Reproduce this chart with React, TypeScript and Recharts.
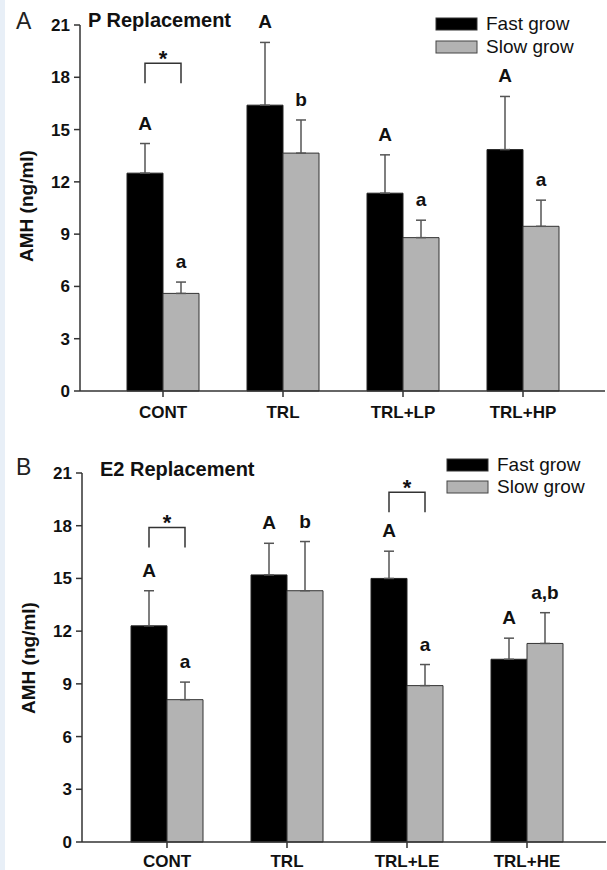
import { Bar, BarChart, ErrorBar, LabelList, XAxis, YAxis } from "recharts";

const FONT = "'Liberation Sans', Arial, sans-serif";

const yTicks = [0, 3, 6, 9, 12, 15, 18, 21];

// panel A: P replacement
const groupsA = ["CONT", "TRL", "TRL+LP", "TRL+HP"];
const fastA = [12.5, 16.4, 11.35, 13.85];
const fastErrA = [1.7, 3.6, 2.2, 3.05];
const slowA = [5.6, 13.65, 8.8, 9.45];
const slowErrA = [0.65, 1.9, 1.0, 1.5];
const fastLettersA = ["A", "A", "A", "A"];
const slowLettersA = ["a", "b", "a", "a"];
const starA = [18.8, null, null, null];

// panel B: E2 replacement
const groupsB = ["CONT", "TRL", "TRL+LE", "TRL+HE"];
const fastB = [12.3, 15.2, 15.0, 10.4];
const fastErrB = [2.0, 1.8, 1.55, 1.2];
const slowB = [8.1, 14.3, 8.9, 11.3];
const slowErrB = [1.0, 2.8, 1.2, 1.75];
const fastLettersB = ["A", "A", "A", "A"];
const slowLettersB = ["a", "b", "a", "a,b"];
const starB = [17.9, null, 19.9, null];

const makeLabel =
  (values: number[], errs: number[], letters: string[], star?: (number | null)[]) =>
  (p: any) => {
    const x = Number(p.x);
    const y = Number(p.y);
    const width = Number(p.width);
    const height = Number(p.height);
    const i = p.index;
    const ppu = height / values[i];
    const errTop = y - errs[i] * ppu;
    const cx = x + width / 2;
    const base = y + height;
    const s = star ? star[i] : null;
    const by = s != null ? base - s * ppu : 0;
    return (
      <g>
        <text
          x={cx}
          y={errTop - 14}
          textAnchor="middle"
          fontFamily={FONT}
          fontWeight="bold"
          fontSize={19}
          fill="#111"
        >
          {letters[i]}
        </text>
        {s != null && (
          <g>
            <path
              d={`M${cx},${by + 20} V${by} H${cx + width} V${by + 20}`}
              fill="none"
              stroke="#333"
              strokeWidth={1.5}
            />
            <text
              x={cx + width / 2}
              y={by + 3}
              textAnchor="middle"
              fontFamily={FONT}
              fontWeight="bold"
              fontSize={22}
              fill="#111"
            >
              *
            </text>
          </g>
        )}
      </g>
    );
  };

type PanelProps = {
  top: number;
  height: number;
  margin: { top: number; right: number; bottom: number; left: number };
  yWidth: number;
  xHeight: number;
  xTickMargin: number;
  padding: { left: number; right: number };
  groups: string[];
  fast: number[];
  fastErr: number[];
  slow: number[];
  slowErr: number[];
  fastLetters: string[];
  slowLetters: string[];
  star: (number | null)[];
};

function Panel(props: PanelProps) {
  const data = props.groups.map((g, i) => ({
    group: g,
    fast: props.fast[i],
    fastErr: [0, props.fastErr[i]],
    slow: props.slow[i],
    slowErr: [0, props.slowErr[i]],
  }));
  const tickStyle = { fontFamily: FONT, fontWeight: "bold", fill: "#111" };
  return (
    <div style={{ position: "absolute", left: 0, top: props.top }}>
      <BarChart
        width={607}
        height={props.height}
        data={data}
        margin={props.margin}
        barCategoryGap="20%"
        barGap={0}
      >
        <XAxis
          dataKey="group"
          height={props.xHeight}
          padding={props.padding}
          tickSize={6}
          tickMargin={props.xTickMargin}
          axisLine={{ stroke: "#333", strokeWidth: 1.5 }}
          tickLine={{ stroke: "#333", strokeWidth: 1.5 }}
          tick={{ ...tickStyle, fontSize: 17 }}
          interval={0}
        />
        <YAxis
          width={props.yWidth}
          domain={[0, 21]}
          ticks={yTicks}
          tickSize={6}
          tickMargin={4}
          axisLine={{ stroke: "#333", strokeWidth: 1.5 }}
          tickLine={{ stroke: "#333", strokeWidth: 1.5 }}
          tick={{ ...tickStyle, fontSize: 17 }}
          interval={0}
        />
        <Bar dataKey="fast" fill="#000" stroke="#222" strokeWidth={1} isAnimationActive={false}>
          <ErrorBar dataKey="fastErr" width={5} stroke="#555" strokeWidth={1.5} />
          <LabelList
            dataKey="fast"
            content={makeLabel(props.fast, props.fastErr, props.fastLetters, props.star)}
          />
        </Bar>
        <Bar dataKey="slow" fill="#b3b3b3" stroke="#333" strokeWidth={1} isAnimationActive={false}>
          <ErrorBar dataKey="slowErr" width={5} stroke="#555" strokeWidth={1.5} />
          <LabelList
            dataKey="slow"
            content={makeLabel(props.slow, props.slowErr, props.slowLetters)}
          />
        </Bar>
      </BarChart>
    </div>
  );
}

function Legend2({ x, y, textX, gap }: { x: number; y: number; textX: number; gap: number }) {
  return (
    <g fontFamily={FONT} fontSize={19} fill="#111">
      <rect x={x} y={y} width={41} height={12} fill="#000" stroke="#333" />
      <text x={textX} y={y + 12}>Fast grow</text>
      <rect x={x} y={y + gap} width={41} height={12} fill="#b3b3b3" stroke="#444" />
      <text x={textX} y={y + gap + 12}>Slow grow</text>
    </g>
  );
}

export default function App() {
  return (
    <div
      style={{
        position: "absolute",
        left: 0,
        top: 0,
        width: 607,
        height: 870,
        background: "#fff",
        overflow: "hidden",
      }}
    >
      <Panel
        top={0}
        height={430}
        margin={{ top: 25, right: 2, bottom: 9, left: 0 }}
        yWidth={80}
        xHeight={30}
        xTickMargin={9}
        padding={{ left: 23, right: 22 }}
        groups={groupsA}
        fast={fastA}
        fastErr={fastErrA}
        slow={slowA}
        slowErr={slowErrA}
        fastLetters={fastLettersA}
        slowLetters={slowLettersA}
        star={starA}
      />
      <Panel
        top={430}
        height={440}
        margin={{ top: 43, right: 1, bottom: 6, left: 0 }}
        yWidth={82}
        xHeight={22}
        xTickMargin={7}
        padding={{ left: 25, right: 19 }}
        groups={groupsB}
        fast={fastB}
        fastErr={fastErrB}
        slow={slowB}
        slowErr={slowErrB}
        fastLetters={fastLettersB}
        slowLetters={slowLettersB}
        star={starB}
      />
      <svg
        width={607}
        height={870}
        style={{ position: "absolute", left: 0, top: 0, pointerEvents: "none" }}
      >
        <rect x={0} y={0} width={5} height={870} fill="#e8eff7" />
        <text x={16} y={29} fontFamily={FONT} fontSize={23} fill="#222">A</text>
        <text x={88} y={27} fontFamily={FONT} fontSize={20} fontWeight="bold" fill="#111">
          P Replacement
        </text>
        <text
          transform="translate(33,206) rotate(-90)"
          textAnchor="middle"
          fontFamily={FONT}
          fontSize={19}
          fontWeight="bold"
          fill="#111"
        >
          AMH (ng/ml)
        </text>
        <Legend2 x={436} y={18} textX={486} gap={23} />

        <text x={16} y={475} fontFamily={FONT} fontSize={23} fill="#222">B</text>
        <text x={100} y={476} fontFamily={FONT} fontSize={20} fontWeight="bold" fill="#111">
          E2 Replacement
        </text>
        <text
          transform="translate(35,658) rotate(-90)"
          textAnchor="middle"
          fontFamily={FONT}
          fontSize={19}
          fontWeight="bold"
          fill="#111"
        >
          AMH (ng/ml)
        </text>
        <Legend2 x={447} y={459} textX={497} gap={22} />
      </svg>
    </div>
  );
}
